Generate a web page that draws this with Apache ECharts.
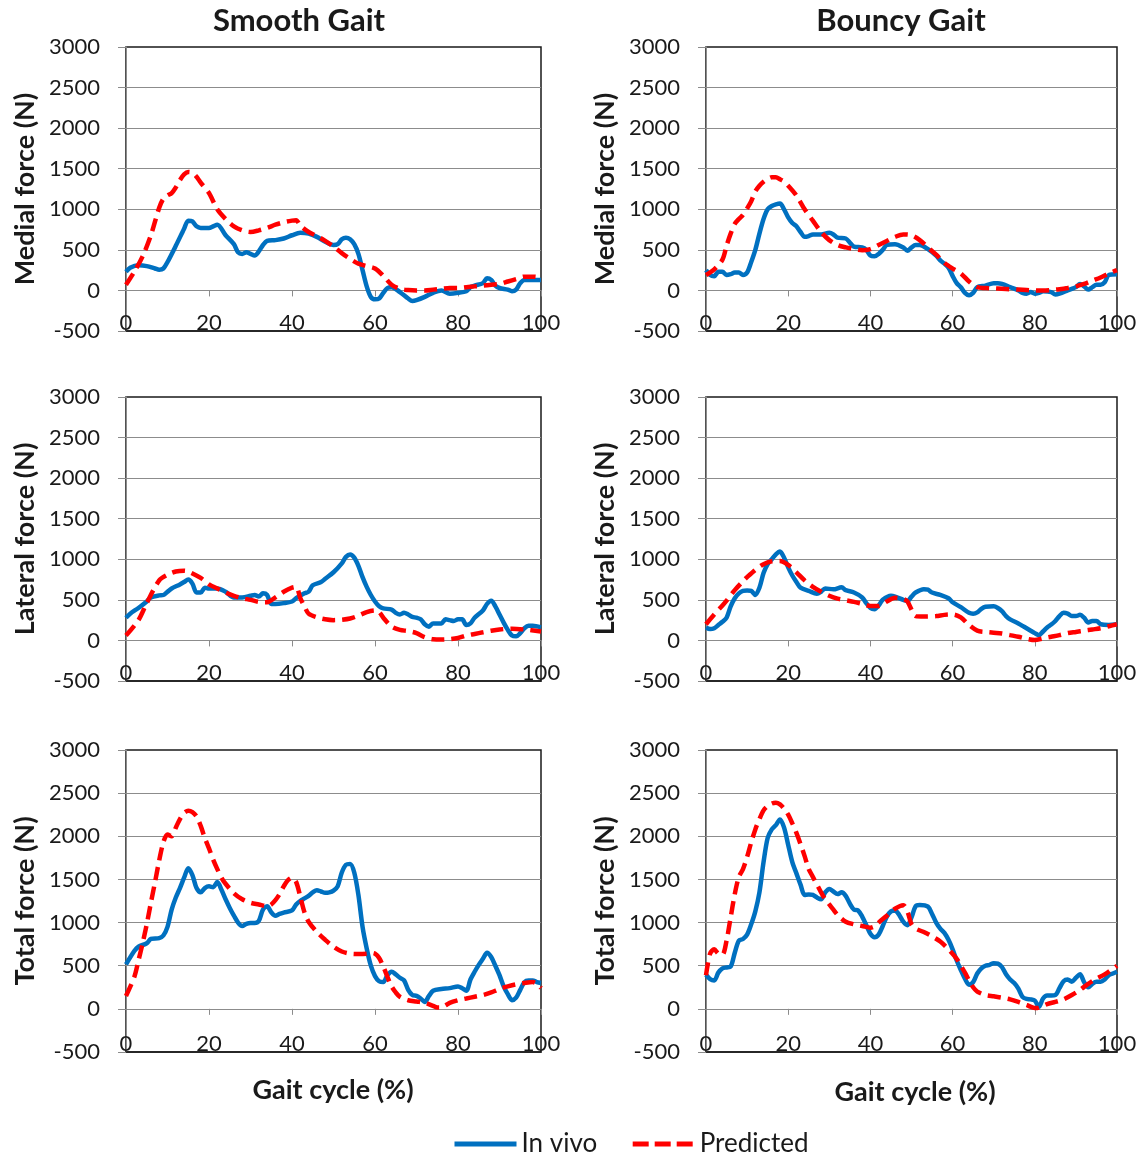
<!DOCTYPE html>
<html><head><meta charset="utf-8">
<script src="https://cdn.jsdelivr.net/npm/echarts@6/dist/echarts.min.js"></script>
<style>html,body{margin:0;padding:0;background:#fff}#c{width:1148px;height:1158px}</style>
</head><body><div id="c"></div>
<script>
// ---- data: [gait cycle %, force N] ----
const smoothMedialVivo = [[0,230],[1,280],[3,310],[5,300],[7,270],[8,255],[9,270],[10,350],[12,550],[14,760],[15,860],[16,850],[17,790],[18,770],[20,770],[21,790],[22,810],[24,680],[26,570],[27,470],[28,450],[29,470],[30,450],[31,430],[32,480],[33,560],[34,610],[36,620],[38,640],[40,680],[42,710],[44,700],[46,660],[48,600],[50,560],[51,570],[52,630],[53,650],[54,630],[55,570],[56,450],[57,250],[58,50],[59,-80],[60,-110],[61,-100],[62,-30],[63,30],[64,40],[66,-20],[68,-100],[69,-130],[70,-120],[72,-80],[74,-30],[76,0],[78,-40],[80,-30],[82,-10],[83,40],[84,60],[86,90],[87,150],[88,130],[89,60],[90,30],[92,10],[93,-10],[94,10],[95,90],[96,130],[98,130],[100,130]];
const smoothMedialPred = [[0,70],[2,230],[4,420],[6,680],[8,1020],[9,1130],[10,1170],[11,1200],[12,1270],[13,1360],[14,1430],[15,1460],[16,1450],[17,1400],[18,1330],[20,1200],[22,1000],[24,880],[26,790],[28,740],[30,720],[32,740],[34,770],[36,810],[38,840],[40,860],[41,865],[42,800],[44,720],[46,670],[48,610],[50,540],[52,460],[54,390],[56,330],[58,300],[60,270],[62,180],[64,70],[66,20],[68,5],[70,0],[72,0],[74,10],[76,20],[78,30],[80,30],[82,40],[84,50],[86,60],[88,70],[90,80],[92,110],[94,140],[96,170],[98,170],[100,160]];

const bouncyMedialVivo = [[0,250],[1,190],[2,175],[3,230],[4,230],[5,190],[6,200],[7,220],[8,220],[9,190],[10,220],[11,350],[12,500],[13,700],[14,880],[15,1000],[16,1040],[17,1060],[18,1070],[19,1000],[20,900],[21,830],[22,790],[23,720],[24,660],[25,670],[26,690],[28,690],[30,710],[31,690],[32,650],[34,640],[35,590],[36,540],[38,530],[39,500],[40,430],[41,420],[42,450],[43,500],[44,560],[46,570],[48,530],[49,490],[50,530],[51,560],[52,560],[54,510],[56,430],[57,370],[58,330],[59,280],[60,180],[61,90],[62,40],[63,-30],[64,-60],[65,-30],[66,40],[68,60],[70,90],[71,90],[72,80],[74,40],[76,0],[77,-30],[78,-40],[79,-20],[80,-40],[81,-30],[82,-10],[84,-20],[85,-50],[86,-40],[88,0],[89,20],[90,40],[91,80],[92,50],[93,10],[94,40],[95,70],[96,70],[97,100],[98,190],[100,200]];
const bouncyMedialPred = [[0,190],[2,260],[4,380],[5,550],[6,700],[7,820],[8,880],[9,930],[10,1010],[11,1100],[12,1220],[13,1290],[14,1340],[15,1375],[16,1395],[17,1395],[18,1370],[19,1340],[20,1290],[22,1170],[24,1000],[26,860],[28,720],[30,620],[32,560],[34,530],[36,510],[38,495],[40,510],[42,560],[44,610],[46,660],[48,690],[50,680],[52,620],[54,530],[56,440],[58,340],[60,270],[62,210],[64,110],[66,40],[68,30],[70,25],[72,20],[74,15],[76,10],[78,5],[80,0],[82,0],[84,5],[86,15],[88,30],[90,50],[92,80],[94,120],[96,160],[98,210],[100,250]];

const smoothLateralVivo = [[0,280],[1,330],[3,400],[5,480],[6,530],[8,555],[9,560],[10,600],[11,640],[13,690],[14,720],[15,750],[16,700],[17,590],[18,590],[19,650],[20,640],[22,640],[24,600],[26,530],[28,530],[30,550],[31,560],[32,540],[33,580],[34,560],[35,450],[36,450],[38,460],[40,480],[41,520],[43,580],[44,600],[45,680],[47,720],[48,760],[50,840],[52,950],[53,1030],[54,1060],[55,1020],[56,920],[57,780],[58,660],[59,560],[60,480],[61,420],[62,395],[64,380],[65,340],[66,320],[67,340],[68,320],[69,290],[70,280],[71,260],[72,200],[73,170],[74,210],[76,210],[77,260],[78,250],[79,240],[80,260],[81,260],[82,190],[83,210],[84,280],[86,370],[87,450],[88,490],[89,420],[90,320],[91,220],[92,130],[93,60],[94,50],[95,90],[96,150],[97,180],[98,180],[100,160]];
const smoothLateralPred = [[0,60],[3,250],[5,460],[8,740],[10,810],[12,850],[14,860],[15,850],[18,770],[20,690],[22,640],[24,590],[26,550],[28,520],[30,500],[32,475],[34,470],[36,530],[38,600],[40,650],[41,660],[42,520],[43,420],[44,330],[46,285],[48,260],[50,250],[52,255],[54,270],[56,305],[58,350],[60,370],[61,350],[62,280],[64,170],[66,130],[68,115],[70,90],[72,40],[74,15],[76,10],[78,15],[80,30],[82,60],[84,80],[86,100],[88,120],[90,135],[93,145],[96,135],[100,110]];

const bouncyLateralVivo = [[0,160],[1,140],[2,150],[3,190],[4,230],[5,280],[6,420],[7,520],[8,580],[9,610],[10,615],[11,610],[12,560],[13,650],[14,830],[15,940],[16,1000],[17,1060],[18,1095],[19,1020],[20,900],[21,800],[22,720],[23,650],[25,610],[27,575],[28,600],[29,640],[31,630],[33,655],[34,620],[36,590],[38,530],[39,460],[40,400],[41,385],[42,430],[43,500],[45,550],[46,540],[48,500],[49,485],[50,540],[51,590],[53,630],[54,625],[55,590],[57,560],[59,520],[60,470],[62,410],[64,340],[65,330],[66,345],[67,390],[68,415],[70,420],[71,400],[72,360],[73,300],[74,260],[76,210],[77,180],[78,150],[79,120],[80,90],[81,65],[82,110],[83,160],[84,195],[85,240],[86,300],[87,340],[88,330],[89,300],[90,300],[91,315],[92,280],[93,220],[94,240],[95,240],[96,200],[98,190],[100,200]];
const bouncyLateralPred = [[0,200],[2,320],[4,430],[5,490],[7,620],[9,730],[10,780],[12,870],[14,940],[16,975],[18,980],[20,930],[22,840],[24,740],[26,660],[28,600],[30,550],[32,515],[34,495],[36,475],[38,450],[40,425],[42,425],[44,480],[46,525],[48,510],[49,480],[50,380],[51,300],[53,295],[56,300],[58,315],[60,320],[62,285],[64,190],[66,120],[68,105],[70,95],[72,85],[74,65],[76,45],[78,20],[80,5],[82,25],[84,45],[86,65],[88,90],[90,105],[92,120],[94,135],[96,150],[98,175],[100,200]];

const smoothTotalVivo = [[0,515],[2,670],[3,720],[5,760],[6,810],[8,820],[9,850],[10,950],[11,1150],[12,1290],[13,1400],[14,1520],[15,1630],[16,1550],[17,1400],[18,1350],[19,1400],[20,1420],[21,1410],[22,1470],[23,1380],[24,1270],[25,1170],[26,1080],[27,1000],[28,960],[29,985],[30,995],[31,995],[32,1020],[33,1150],[34,1190],[35,1120],[36,1080],[37,1100],[38,1115],[40,1140],[41,1210],[42,1250],[43,1280],[44,1310],[45,1350],[46,1375],[47,1360],[48,1345],[49,1350],[50,1370],[51,1420],[52,1580],[53,1670],[54,1680],[55,1580],[56,1320],[57,950],[58,700],[59,500],[60,380],[61,320],[62,310],[63,390],[64,430],[65,400],[66,360],[67,330],[68,220],[69,160],[70,150],[71,120],[72,80],[73,150],[74,210],[76,230],[78,240],[80,260],[81,240],[82,210],[83,340],[84,430],[85,510],[86,580],[87,650],[88,600],[89,500],[90,390],[91,260],[92,170],[93,100],[94,130],[95,220],[96,310],[97,330],[98,330],[99,310],[100,300]];
const smoothTotalPred = [[0,150],[2,370],[3,560],[4,760],[5,980],[6,1230],[7,1470],[8,1720],[9,1930],[10,2020],[11,2000],[12,2100],[13,2200],[14,2270],[15,2295],[16,2280],[17,2230],[18,2120],[19,1980],[20,1860],[21,1730],[22,1620],[23,1520],[24,1450],[26,1340],[28,1270],[30,1230],[32,1210],[34,1190],[35,1210],[36,1260],[37,1330],[38,1420],[39,1490],[40,1520],[41,1470],[42,1300],[43,1120],[44,1010],[46,890],[48,800],[50,720],[52,665],[54,640],[56,635],[58,640],[59,650],[60,640],[61,590],[62,490],[63,370],[64,260],[65,190],[66,140],[68,100],[70,85],[72,70],[74,35],[75,15],[76,15],[77,40],[78,70],[80,100],[82,120],[84,140],[86,160],[88,190],[90,230],[92,260],[94,285],[96,300],[98,310],[99,290],[100,240]];

const bouncyTotalVivo = [[0,395],[1,345],[2,330],[3,420],[4,470],[5,480],[6,490],[7,650],[8,790],[9,810],[10,860],[11,980],[12,1130],[13,1350],[14,1700],[15,1980],[16,2080],[17,2130],[18,2195],[19,2100],[20,1900],[21,1700],[22,1570],[23,1440],[24,1320],[25,1325],[26,1320],[27,1290],[28,1270],[29,1350],[30,1390],[31,1360],[32,1330],[33,1350],[34,1310],[35,1220],[36,1150],[37,1140],[38,1070],[39,970],[40,870],[41,830],[42,860],[43,960],[44,1070],[45,1130],[46,1140],[47,1090],[48,1010],[49,970],[50,1060],[51,1190],[52,1205],[54,1185],[55,1100],[56,1000],[57,930],[58,880],[59,800],[60,690],[61,560],[62,450],[63,350],[64,280],[65,310],[66,410],[67,470],[68,500],[69,510],[70,530],[71,525],[72,485],[73,400],[74,340],[75,300],[76,235],[77,140],[78,115],[79,110],[80,95],[81,25],[82,120],[83,155],[84,155],[85,160],[86,240],[87,320],[88,340],[89,315],[90,360],[91,400],[92,310],[93,250],[94,290],[95,315],[96,315],[97,340],[98,390],[99,410],[100,430]];
const bouncyTotalPred = [[0,390],[1,640],[2,690],[3,640],[4,630],[5,790],[6,1060],[7,1330],[8,1530],[9,1620],[10,1760],[11,1930],[12,2080],[13,2200],[14,2300],[15,2350],[16,2380],[17,2390],[18,2370],[19,2320],[20,2250],[21,2150],[22,2040],[23,1910],[24,1770],[25,1620],[26,1530],[27,1440],[28,1350],[29,1270],[30,1210],[31,1150],[32,1090],[34,1010],[36,980],[38,960],[40,940],[41,955],[42,1000],[44,1080],[46,1160],[48,1200],[49,1130],[50,980],[51,930],[53,890],[55,840],[57,780],[59,690],[61,580],[62,500],[63,420],[64,330],[65,250],[66,200],[68,160],[70,145],[72,130],[74,110],[76,80],[78,45],[80,10],[81,15],[83,55],[85,80],[87,110],[89,160],[91,220],[93,290],[95,350],[97,400],[100,500]];

const columnTitles = ['Smooth Gait', 'Bouncy Gait'];
const rowNames = ['Medial force (N)', 'Lateral force (N)', 'Total force (N)'];
const xAxisTitle = 'Gait cycle (%)';
const seriesNames = ['In vivo', 'Predicted'];
const xMin = 0, xMax = 100, xStep = 20;
const yMin = -500, yMax = 3000, yStep = 500;

// ---- layout ----
const FONT = 'Lato';
const TXT = '#1a1a1a';
const GRAY = '#8c8c8c';
const BLUE = '#0070C0', RED = '#FF0000';
const cols = [{left:126, width:415}, {left:706, width:411}];
const rows = [{top:47, height:284}, {top:397, height:284}, {top:750, height:302}];
const panelData = [
  [smoothMedialVivo, smoothMedialPred], [bouncyMedialVivo, bouncyMedialPred],
  [smoothLateralVivo, smoothLateralPred], [bouncyLateralVivo, bouncyLateralPred],
  [smoothTotalVivo, smoothTotalPred], [bouncyTotalVivo, bouncyTotalPred]
];

const grids = [], xAxes = [], yAxes = [], series = [];
panelData.forEach((pair, i) => {
  const r = Math.floor(i / 2), c = i % 2;
  const g = {left: cols[c].left, width: cols[c].width, top: rows[r].top, height: rows[r].height};
  grids.push({left: g.left, top: g.top, width: g.width, height: g.height, show: true,
    borderColor: '#1a1a1a', borderWidth: 1.5, backgroundColor: 'transparent', containLabel: false, outerBoundsMode: 'none'});
  const zeroFromTop = g.height * (yMax - 0) / (yMax - yMin);
  // main x axis at the bottom edge, labels drawn inside the plot
  xAxes.push({type: 'value', gridIndex: i, min: xMin, max: xMax, interval: xStep, position: 'bottom',
    axisLine: {show: true, onZero: false, lineStyle: {color: '#1a1a1a', width: 1.5}},
    axisTick: {show: false},
    splitLine: {show: false},
    axisLabel: {margin: -19, fontSize: 22, fontFamily: FONT, color: TXT, showMinLabel: true, showMaxLabel: true}});
  // zero line with downward ticks
  xAxes.push({type: 'value', gridIndex: i, min: xMin, max: xMax, interval: xStep, position: 'top', offset: -zeroFromTop,
    axisLine: {show: true, onZero: false, lineStyle: {color: GRAY, width: 1}},
    axisTick: {show: true, inside: true, length: 6, lineStyle: {color: GRAY}},
    axisLabel: {show: false}, splitLine: {show: false}});
  yAxes.push({type: 'value', gridIndex: i, min: yMin, max: yMax, interval: yStep,
    axisLine: {show: true, onZero: false, lineStyle: {color: GRAY, width: 1}},
    axisTick: {show: true, length: 8, lineStyle: {color: GRAY}},
    splitLine: {show: true, showMinLine: false, showMaxLine: false, lineStyle: {color: GRAY, width: 1}},
    axisLabel: {margin: 26, fontSize: 22, fontFamily: FONT, color: TXT, formatter: v => String(v)},
    name: rowNames[r], nameLocation: 'middle', nameGap: 87,
    nameTextStyle: {fontSize: 27, fontWeight: 'bold', fontFamily: FONT, color: TXT}});
  series.push({name: seriesNames[0], type: 'line', xAxisIndex: 2 * i, yAxisIndex: i, data: pair[0],
    smooth: 0.3, symbol: 'none', lineStyle: {color: BLUE, width: 4.5}, itemStyle: {color: BLUE}, z: 3});
  series.push({name: seriesNames[1], type: 'line', xAxisIndex: 2 * i, yAxisIndex: i, data: pair[1],
    smooth: 0.3, symbol: 'none', lineStyle: {color: RED, width: 4.5, type: [13, 7]}, itemStyle: {color: RED}, z: 4});
});

const graphics = [
  {type: 'text', x: 299, y: 21, style: {text: columnTitles[0], align: 'center', verticalAlign: 'middle', font: 'bold 31px ' + FONT, fill: TXT}},
  {type: 'text', x: 901, y: 21, style: {text: columnTitles[1], align: 'center', verticalAlign: 'middle', font: 'bold 31px ' + FONT, fill: TXT}},
  {type: 'text', x: 333, y: 1090, style: {text: xAxisTitle, align: 'center', verticalAlign: 'middle', font: 'bold 27px ' + FONT, fill: TXT}},
  {type: 'text', x: 915, y: 1092, style: {text: xAxisTitle, align: 'center', verticalAlign: 'middle', font: 'bold 27px ' + FONT, fill: TXT}}
];

const chart = echarts.init(document.getElementById('c'), null, {renderer: 'canvas'});
chart.setOption({
  animation: false,
  backgroundColor: '#fff',
  grid: grids, xAxis: xAxes, yAxis: yAxes, series: series,
  legend: {
    data: [
      {name: seriesNames[0], itemStyle: {color: 'rgba(0,0,0,0)', borderWidth: 0}, lineStyle: {color: BLUE, width: 5, type: 'solid'}},
      {name: seriesNames[1], itemStyle: {color: 'rgba(0,0,0,0)', borderWidth: 0}, lineStyle: {color: RED, width: 5, type: [16, 6]}}
    ],
    left: 452, top: 1131, padding: 0, itemWidth: 62, itemHeight: 14, itemGap: 33,
    textStyle: {fontSize: 26, fontFamily: FONT, color: TXT}},
  graphic: graphics
});
</script>
</body></html>
